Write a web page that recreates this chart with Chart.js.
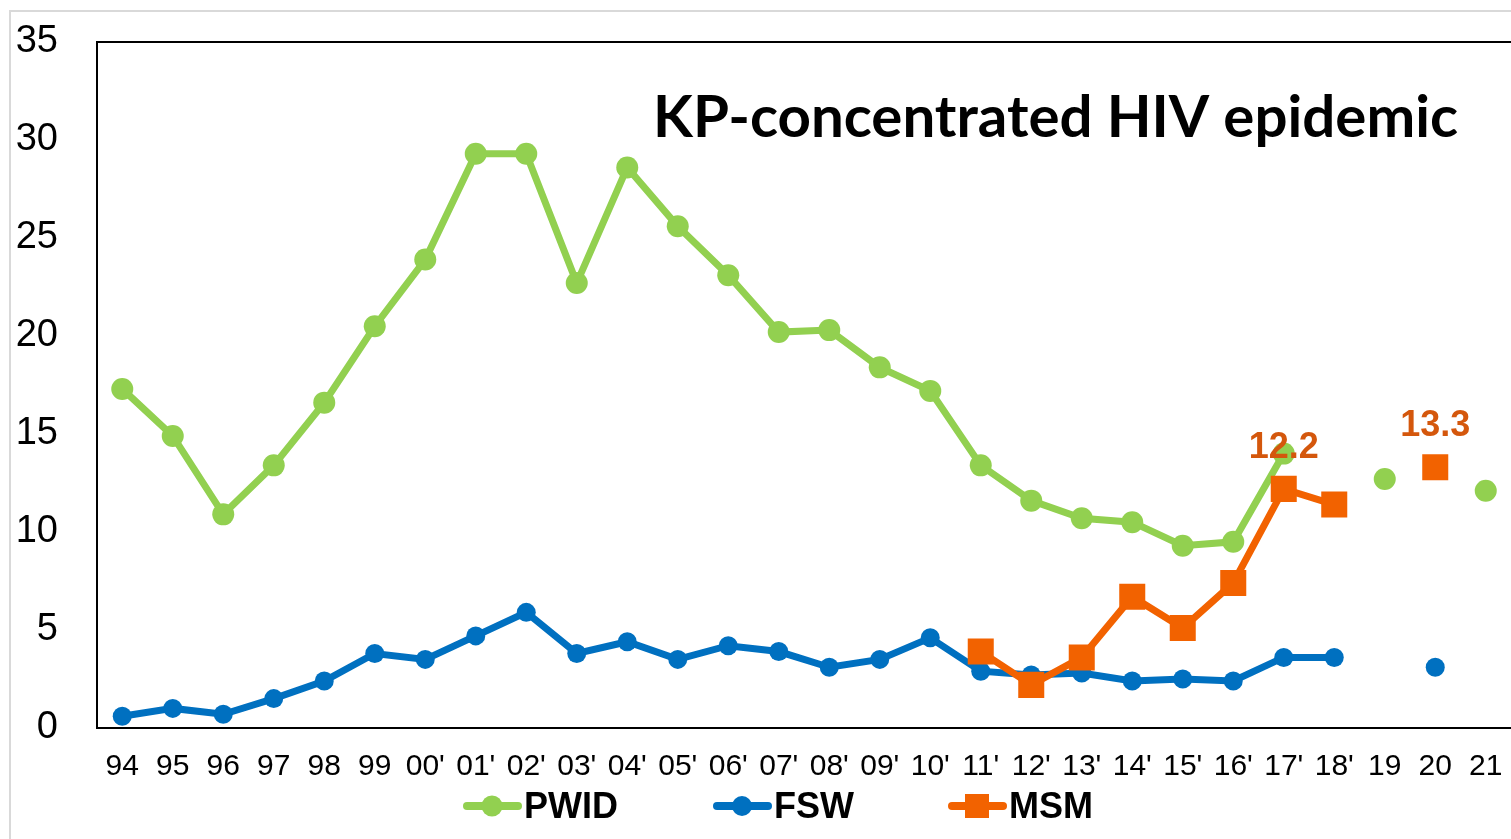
<!DOCTYPE html>
<html>
<head>
<meta charset="utf-8">
<script src="https://cdn.jsdelivr.net/npm/chart.js@4.4.1/dist/chart.umd.min.js"></script>
<style>
  html, body { margin: 0; padding: 0; background: #fff; }
  #wrap { position: relative; width: 1511px; height: 839px; }
</style>
</head>
<body>
<div id="wrap"><canvas id="c" width="1511" height="839"></canvas></div>
<script>
const categories = ['94','95','96','97','98','99',"00'","01'","02'","03'","04'","05'","06'","07'","08'","09'","10'","11'","12'","13'","14'","15'","16'","17'","18'",'19','20','21'];
const pwid = [17.3,14.9,10.9,13.4,16.6,20.5,23.9,29.3,29.3,22.7,28.6,25.6,23.1,20.2,20.3,18.4,17.2,13.4,11.6,10.7,10.5,9.3,9.5,14.0,null,12.7,null,12.1];
const fsw  = [0.6,1.0,0.7,1.5,2.4,3.8,3.5,4.7,5.9,3.8,4.4,3.5,4.2,3.9,3.1,3.5,4.6,2.9,2.7,2.8,2.4,2.5,2.4,3.6,3.6,null,3.1,null];
const msm  = [null,null,null,null,null,null,null,null,null,null,null,null,null,null,null,null,null,3.9,2.2,3.6,6.7,5.1,7.4,12.2,11.4,null,13.3,null];
const msmLabelled = {"17'": '12.2', '20': '13.3'};
const yTicks = [0,5,10,15,20,25,30,35];
const titleText = 'KP-concentrated HIV epidemic';
const seriesNames = ['PWID','FSW','MSM'];

const C_PWID = '#92D050', C_FSW = '#0070C0', C_MSM = '#F26200', C_LBL = '#D4570C';

const decor = {
  id: 'decor',
  beforeDraw(chart) {
    const ctx = chart.ctx;
    ctx.save();
    ctx.strokeStyle = '#D9D9D9';
    ctx.lineWidth = 2;
    ctx.beginPath();
    ctx.moveTo(10, 839); ctx.lineTo(10, 11); ctx.lineTo(1511, 11);
    ctx.stroke();
    ctx.restore();
  },
  afterDatasetsDraw(chart) {
    const ctx = chart.ctx, a = chart.chartArea;
    ctx.save();
    ctx.strokeStyle = '#000'; ctx.lineWidth = 2;
    ctx.beginPath(); ctx.moveTo(a.left - 1, a.top); ctx.lineTo(1511, a.top); ctx.stroke();
    ctx.fillStyle = '#000';
    ctx.font = 'bold 57px Lato';
    const w = ctx.measureText(titleText).width;
    ctx.translate(653, 137);
    ctx.scale(805 / w, 1);
    ctx.textBaseline = 'alphabetic';
    ctx.textAlign = 'left';
    ctx.fillText(titleText, 0, 0);
    ctx.restore();

    ctx.save();
    ctx.font = 'bold 36px "Liberation Sans", Arial, sans-serif';
    ctx.fillStyle = C_LBL;
    ctx.textAlign = 'center';
    ctx.textBaseline = 'alphabetic';
    const meta = chart.getDatasetMeta(2);
    categories.forEach((c, i) => {
      if (msmLabelled[c] && meta.data[i]) {
        const p = meta.data[i];
        ctx.fillText(msmLabelled[c], p.x, p.y - 31);
      }
    });
    ctx.restore();

    ctx.save();
    const items = [
      {x: 463, color: C_PWID, style: 'circle', r: 10.5, name: seriesNames[0]},
      {x: 713, color: C_FSW, style: 'circle', r: 10, name: seriesNames[1]},
      {x: 948, color: C_MSM, style: 'rect', r: 12, name: seriesNames[2]}
    ];
    const cy = 806;
    items.forEach(it => {
      ctx.strokeStyle = it.color; ctx.fillStyle = it.color;
      ctx.lineWidth = 8; ctx.lineCap = 'round';
      ctx.beginPath(); ctx.moveTo(it.x + 4, cy); ctx.lineTo(it.x + 55, cy); ctx.stroke();
      const mx = it.x + 29;
      if (it.style === 'circle') {
        ctx.beginPath(); ctx.arc(mx, cy, it.r, 0, Math.PI * 2); ctx.fill();
      } else {
        ctx.fillRect(mx - it.r, cy - it.r, it.r * 2, it.r * 2);
      }
      ctx.fillStyle = '#000';
      ctx.font = 'bold 36px "Liberation Sans", Arial, sans-serif';
      ctx.textBaseline = 'alphabetic';
      ctx.textAlign = 'left';
      ctx.fillText(it.name, it.x + 61, 818);
    });
    ctx.restore();
  }
};

new Chart(document.getElementById('c'), {
  type: 'line',
  data: {
    labels: categories,
    datasets: [
      { label: seriesNames[0], data: pwid, borderColor: C_PWID, backgroundColor: C_PWID,
        borderWidth: 7, pointRadius: 11, pointHoverRadius: 11, pointStyle: 'circle', pointBorderWidth: 0, order: 2, spanGaps: false },
      { label: seriesNames[1], data: fsw, borderColor: C_FSW, backgroundColor: C_FSW,
        borderWidth: 7, pointRadius: 9.5, pointHoverRadius: 9.5, pointStyle: 'circle', pointBorderWidth: 0, order: 1, spanGaps: false },
      { label: seriesNames[2], data: msm, borderColor: C_MSM, backgroundColor: C_MSM,
        borderWidth: 7, pointRadius: 18.4, pointHoverRadius: 18.4, pointStyle: 'rect', pointBorderWidth: 0, order: 0, spanGaps: false }
    ]
  },
  options: {
    responsive: false,
    animation: false,
    events: [],
    layout: { autoPadding: false, padding: { left: 12, top: 42, right: 0, bottom: 0 } },
    plugins: { legend: { display: false }, tooltip: { enabled: false }, title: { display: false } },
    scales: {
      x: {
        offset: true,
        grid: { display: false, drawTicks: false },
        border: { display: true, color: '#000', width: 2 },
        ticks: { color: '#000', padding: 21, maxRotation: 0, autoSkip: false,
          font: { family: '"Liberation Sans", Arial, sans-serif', size: 30 } },
        afterFit(s) { s.height = 111; s.paddingLeft = 0; s.paddingRight = 0; }
      },
      y: {
        min: 0, max: 35,
        afterBuildTicks(s) { s.ticks = yTicks.map(v => ({ value: v })); },
        grid: { display: false, drawTicks: false },
        border: { display: true, color: '#000', width: 2 },
        ticks: { color: '#000', padding: 39,
          font: { family: '"Liberation Sans", Arial, sans-serif', size: 38 } },
        afterFit(s) { s.width = 85; s.paddingTop = 0; s.paddingBottom = 0; }
      }
    }
  },
  plugins: [decor]
});
</script>
</body>
</html>
